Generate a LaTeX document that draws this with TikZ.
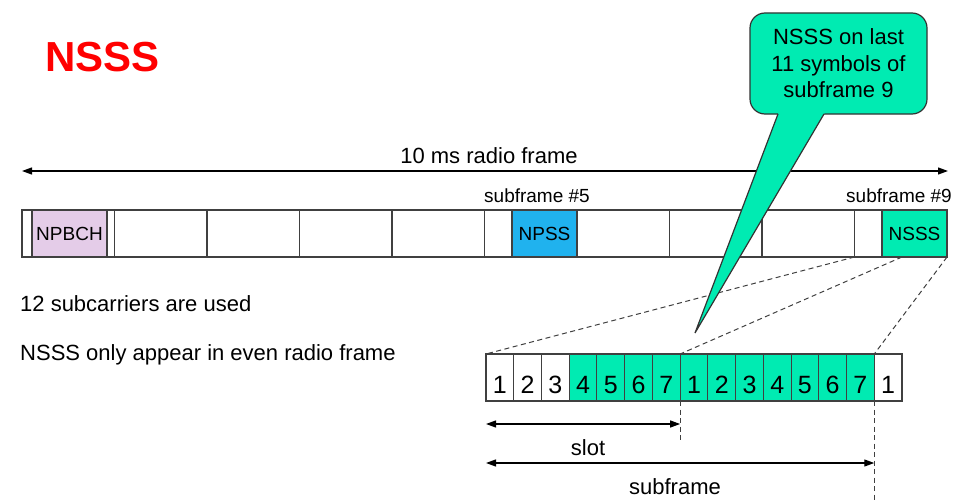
\documentclass[tikz,border=0pt]{standalone}
\usepackage{fontspec}
\setmainfont{Liberation Sans}
\usetikzlibrary{arrows.meta,calc}
\definecolor{nsss}{RGB}{0,235,178}
\definecolor{npss}{RGB}{32,178,238}
\definecolor{npbch}{RGB}{228,204,232}
\definecolor{edge}{RGB}{64,64,64}
\definecolor{titlered}{RGB}{255,0,0}
\begin{document}
\begin{tikzpicture}[x=1pt,y=-1pt,
  cellbox/.style={draw=edge, line width=1.1pt, inner sep=0pt, outer sep=0pt,
    anchor=north west, minimum height=47pt},
  symbox/.style={cellbox, minimum width=27.733pt, text height=31pt, text depth=0pt,
    font=\fontsize{25}{30}\selectfont},
  lbl/.style={font=\fontsize{19}{23}\selectfont},
  txt/.style={font=\fontsize{22}{26}\selectfont},
  dimarrow/.style={{Triangle[length=10pt,width=7pt]}-{Triangle[length=10pt,width=7pt]}, line width=1.2pt, black},
  zoomline/.style={draw=edge, line width=1pt, dash pattern=on 5pt off 3.5pt},
]
\useasboundingbox (0,0) rectangle (970,503);

% title
\node[anchor=base west, inner sep=0pt, text=titlered, font=\fontsize{42}{48}\selectfont\bfseries] (title) at (45,72) {NSSS};

% radio frame arrow
\coordinate (ra) at (22,171);
\coordinate (rb) at (948,171);
\draw[dimarrow] (ra) -- (rb);
\node[txt, anchor=base, inner sep=0pt] (rflabel) at (489,163) {10 ms radio frame};

% subframes
\foreach \i in {0,...,9}
  \node[cellbox, minimum width=92.5pt] (sf\i) at ({22+92.5*\i},210) {};
\node[cellbox, lbl, fill=npbch, minimum width=75pt] (npbch) at (32,210) {NPBCH};
\node[cellbox, lbl, fill=npss, minimum width=65pt] (npss) at (512,210) {NPSS};
\node[cellbox, lbl, fill=nsss, minimum width=65pt] (nsssbox) at (882,210) {NSSS};

\node[lbl, anchor=base, inner sep=0pt] (sf5lbl) at (537,202.5) {subframe \#5};
\node[lbl, anchor=base, inner sep=0pt] (sf9lbl) at (899,202.5) {subframe \#9};

% left texts
\node[txt, anchor=base west, inner sep=0pt] (t1) at (20,311) {12 subcarriers are used};
\node[txt, anchor=base west, inner sep=0pt] (t2) at (20,360.5) {NSSS only appear in even radio frame};

% symbols
\foreach \n/\c [count=\k from 0] in {1/white,2/white,3/white,4/nsss,5/nsss,6/nsss,7/nsss,1/nsss,2/nsss,3/nsss,4/nsss,5/nsss,6/nsss,7/nsss,1/white}
  \node[symbox, fill=\c] (sym\k) at ({486+27.733*\k},354) {\n};

% zoom lines
\coordinate (z2) at (902,257);
\draw[zoomline] (sf9.south west) -- (sym0.north west);
\draw[zoomline] (z2) -- (sym6.north east);
\draw[zoomline] (nsssbox.south east) -- (sym13.north east);

% dimension guides
\coordinate (slotend) at (sym6.south east |- 0,442);
\coordinate (sfend) at (sym13.south east |- 0,501);
\draw[zoomline] (sym6.south east) -- (slotend);
\draw[zoomline] (sym13.south east) -- (sfend);

\coordinate (slotL) at (sym0.south west |- 0,424);
\coordinate (slotR) at (sym6.south east |- 0,424);
\draw[dimarrow] (slotL) -- (slotR);
\node[txt, anchor=base, inner sep=0pt] (slotlbl) at (588,455) {slot};

\coordinate (sfL) at (sym0.south west |- 0,463);
\coordinate (sfR) at (sym13.south east |- 0,463);
\draw[dimarrow] (sfL) -- (sfR);
\node[txt, anchor=base, inner sep=0pt] (sflbl) at (675,494) {subframe};

% callout
\node[draw=black!80, line width=1.2pt, fill=nsss, rounded corners=15pt, minimum width=177pt,
  minimum height=101pt, inner sep=0pt, align=center,
  font=\fontsize{22}{26.5}\selectfont] (callout) at (838.5,63.5) {NSSS on last\\11 symbols of\\subframe 9};
\coordinate (tip) at (695,333);
\coordinate (bl) at (778,114);
\coordinate (br) at (824,114);
\fill[nsss] ($(tip)!1.03!(bl)$) -- (tip) -- ($(tip)!1.03!(br)$) -- cycle;
\draw[black!80, line width=1.2pt, line join=miter] (bl) -- (tip) -- (br);
\end{tikzpicture}
\end{document}
